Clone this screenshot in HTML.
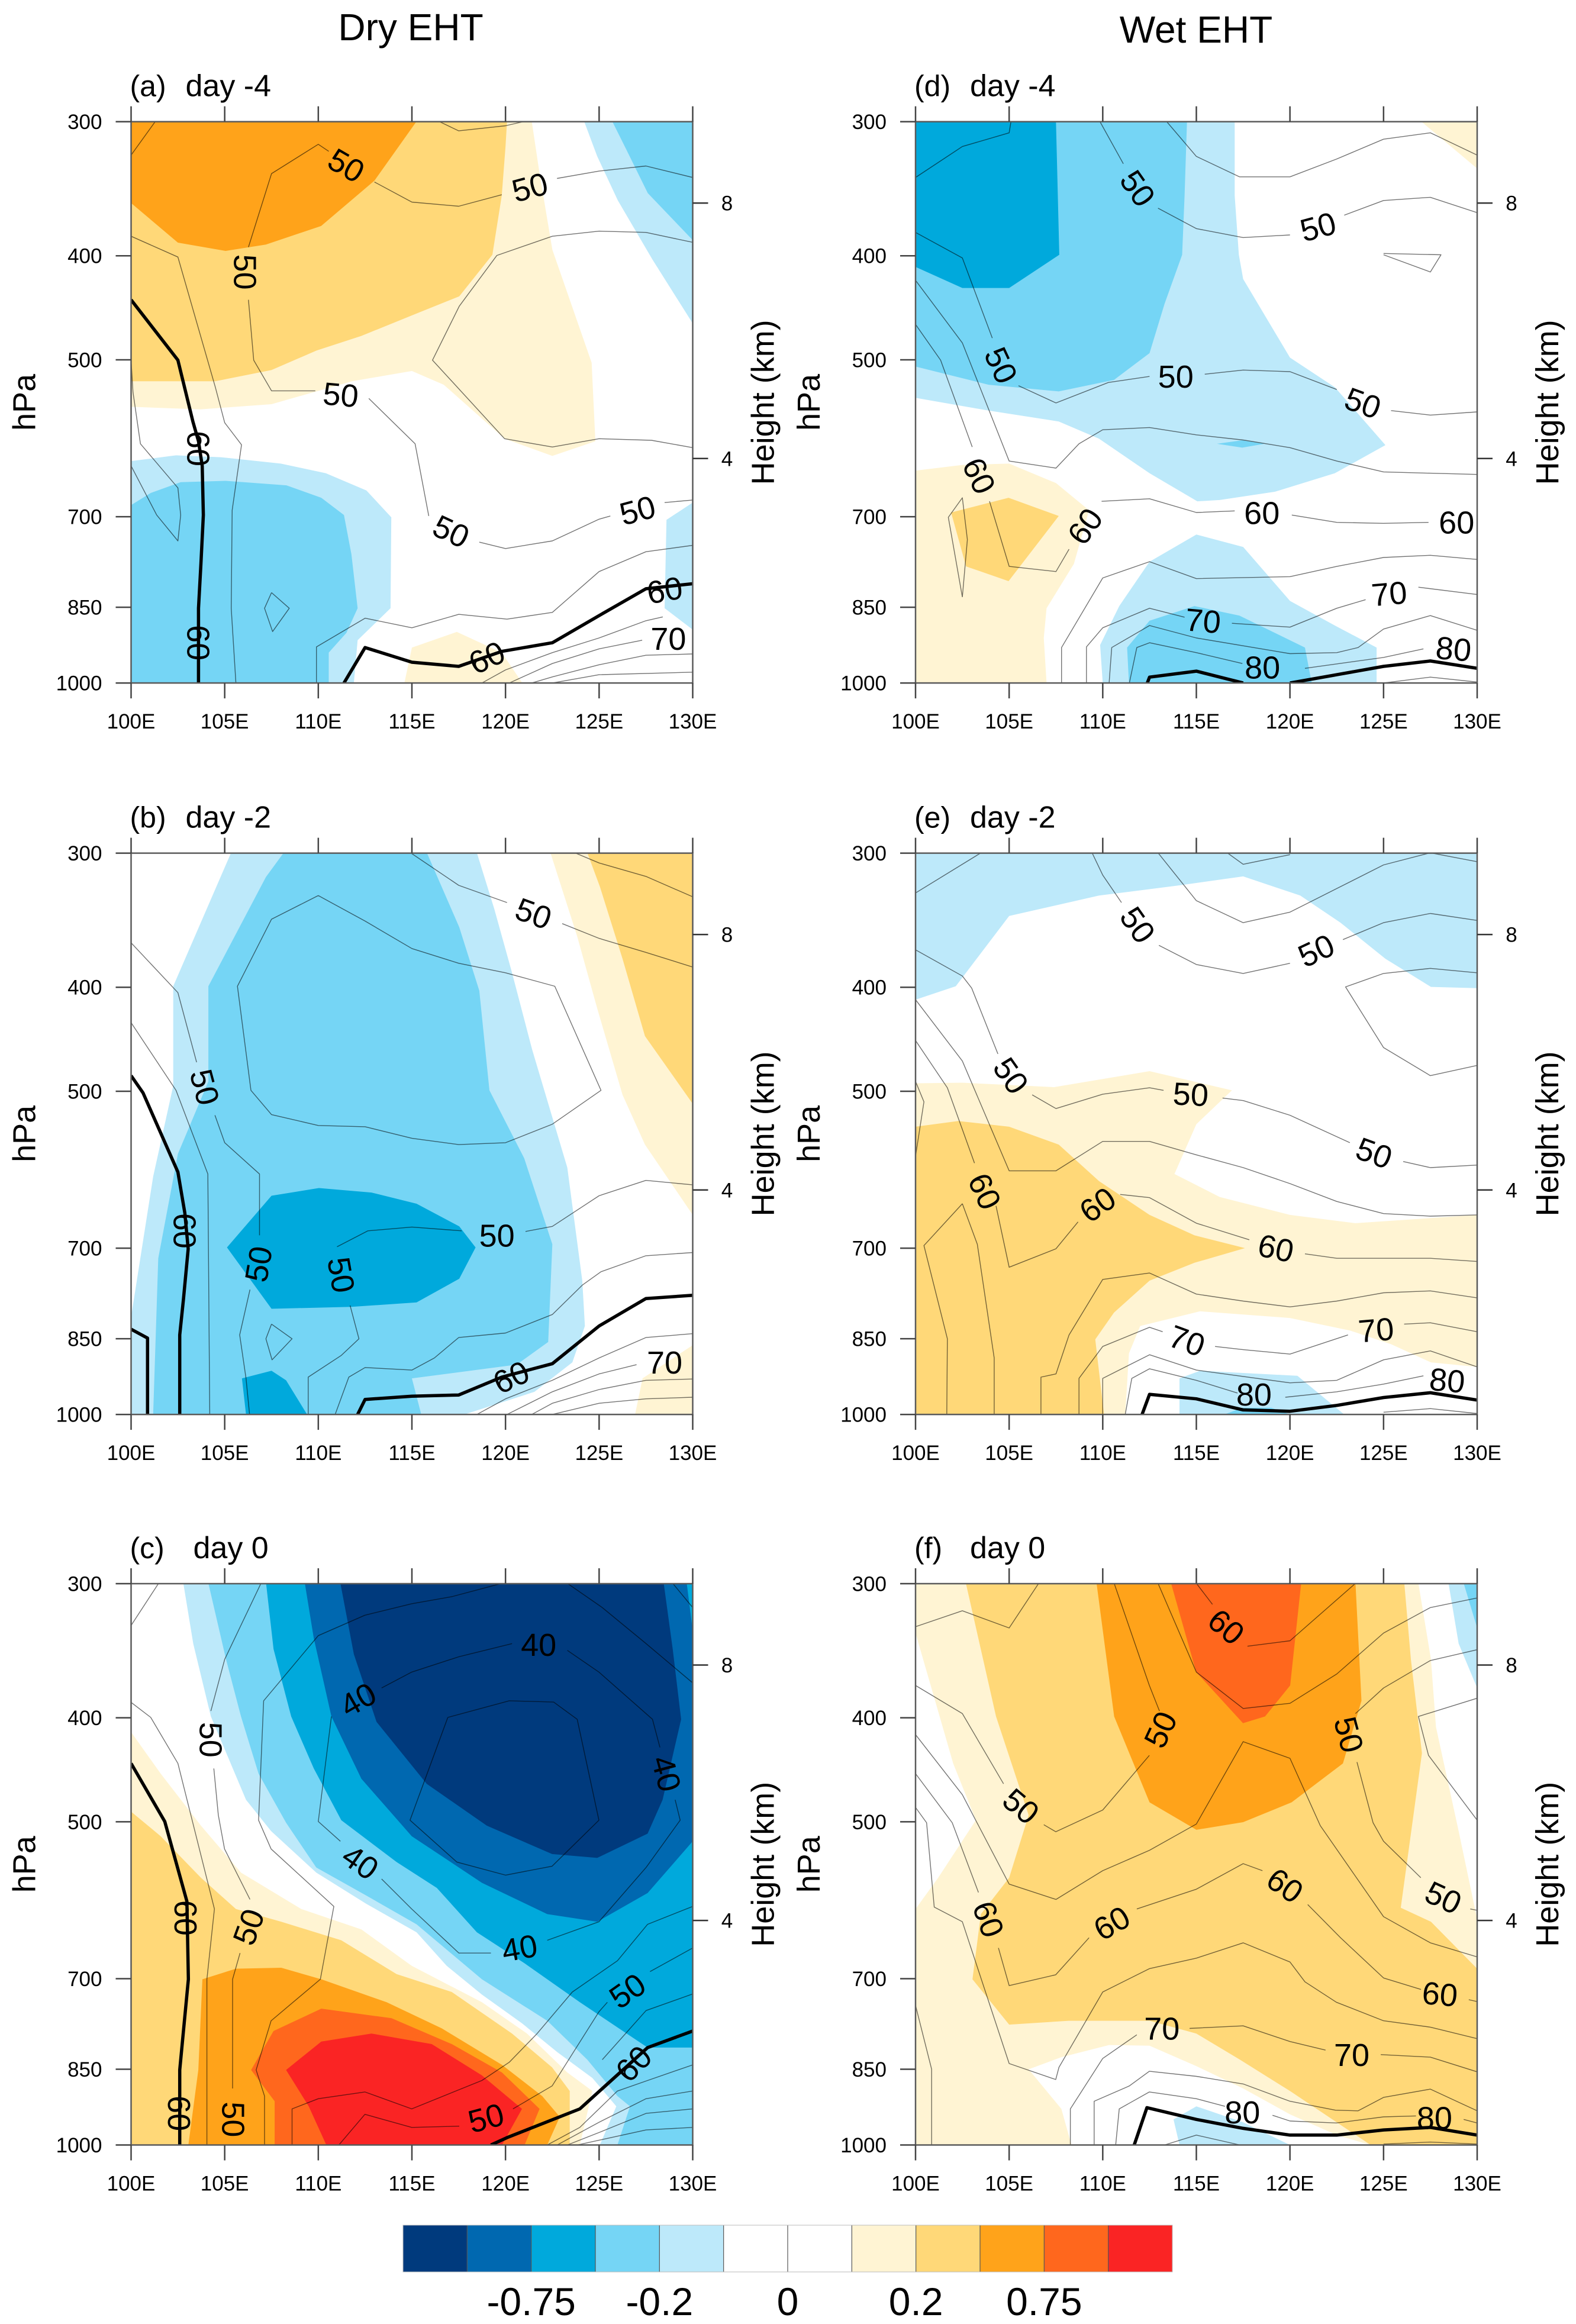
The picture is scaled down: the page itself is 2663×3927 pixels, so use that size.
<!DOCTYPE html>
<html lang="en">
<head>
<meta charset="utf-8">
<title>Dry and Wet EHT cross-sections</title>
<style>
html,body{margin:0;padding:0;background:#fff;}
svg{display:block;font-family:"Liberation Sans",sans-serif;}
</style>
</head>
<body>
<svg id="chart" xmlns="http://www.w3.org/2000/svg" width="2663" height="3927" viewBox="0 0 2663 3927">
<rect x="0" y="0" width="2663" height="3927" fill="#ffffff"/>
<text x="694" y="68" font-size="64" text-anchor="middle">Dry EHT</text>
<text x="2021" y="72" font-size="64" text-anchor="middle">Wet EHT</text>
</svg>
<script>
// ---------- shared tick values ----------
const lonTicks = [100,105,110,115,120,125,130];
const pressureTicks = [300,400,500,700,850,1000];
const heightTicks = [8,4];
// ---------- colour levels ----------
const levelColors = ['#003a7d','#0068b0','#00a9dc','#75d5f5','#bde9fa','#ffffff','#ffffff','#fff4d3','#ffd878','#ffa31a','#ff671d','#fa2424'];
const colorbarTickIndex = [2,4,6,8,10];
const colorbarTickText = ['-0.75','-0.2','0','0.2','0.75'];

// ---------- panel (a) ----------
const fillsA = [
[7,[[100,9.28],[121.4,9.28],[121.8,8.5],[122.5,7.27],[124.6,5.5],[124.8,4.27],[122.5,4.04],[119.95,4.31],[116.7,5.155],[115,5.37],[111.8,5.21],[107.5,4.85],[103.7,4.77],[100,4.81]]],
[8,[[100,9.28],[120.08,9.28],[120,8.885],[119.8,8.115],[119.3,7.19],[117.53,6.54],[115.25,6.27],[112.3,5.92],[109.9,5.69],[107.5,5.385],[104.5,5.21],[100,5.21]]],
[9,[[100,9.28],[115.25,9.28],[113,8.35],[110.15,7.64],[107.2,7.35],[105.05,7.25],[102.5,7.38],[100,8]]],
[4,[[124.2,9.28],[130,9.28],[130,6.115],[127.85,7.115],[126,8.04],[124.9,8.73]]],
[3,[[125.7,9.28],[130,9.28],[130,7.42],[127.6,8.155],[126.5,8.81]]],
[4,[[100,3.96],[102.4,4.05],[104.8,4.02],[108,3.92],[110.4,3.77],[112.57,3.5],[113.9,3.08],[113.86,1.655],[112.1,1.155],[111.9,0.485],[100,0.485]]],
[3,[[100,3.27],[101.05,3.46],[102.65,3.63],[105.05,3.65],[108.3,3.58],[110.16,3.385],[111.37,3.115],[111.77,2.5],[112.1,1.655],[111.5,1.27],[110.56,0.96],[110.56,0.485],[100,0.485]]],
[4,[[130,3.31],[128.6,3.04],[128.5,1.655],[130,1.32]]],
[7,[[115,1.04],[117.4,1.285],[119.8,0.96],[120.9,0.485],[114.6,0.485]]]
];
const thinA = [
[[100,8.75],[101.3,9.28]],
[[106.27,7.31],[107.5,8.46],[110,8.92],[110.56,8.81]],
[[113,8.33],[115,8.015],[117.5,7.95],[119.8,8.13]],
[[122.75,8.385],[125,8.5],[127.5,8.58],[130,8.4]],
[[116.5,9.27],[117.5,9.13],[120,9.21],[120.9,9.27]],
[[100,7.48],[102.5,7.155],[104.5,5.115],[105,4.56],[105.9,4.215],[105.4,3.19],[105.35,1.655],[105.6,0.485]],
[[106.27,6.485],[106.55,5.54],[107.5,5.06],[109.84,5.06]],
[[112.7,4.94],[115.17,4.23],[115.9,3.1]],
[[118.6,2.69],[120,2.59],[122.5,2.71],[125,3.05],[125.6,3.1]],
[[128.5,3.31],[130,3.35]],
[[130,7.385],[127.5,7.54],[125,7.56],[122.5,7.48],[119.54,7.18],[117.53,6.385],[116.1,5.54],[119.95,4.31],[122.5,4.18],[125,4.31],[127.8,4.285],[130,4.17]],
[[107.5,1.9],[108.45,1.655],[107.56,1.29],[107.13,1.655],[107.5,1.9]],
[[100,5.54],[100.1,5.04],[100.5,4.23],[102.5,3.54],[102.65,3.115],[102.5,2.71],[101.37,3.115],[100,3.885]],
[[109.9,0.485],[109.9,1.05],[112.5,1.5],[115,1.35],[117.5,1.56],[120.08,1.485],[122.5,1.59],[125,2.23],[127.5,2.54],[130,2.64]],
[[118.74,0.485],[120,0.69],[122.5,0.96],[125,1.19],[127.5,1.46],[128.4,1.52]],
[[120.2,0.485],[122.5,0.79],[125,1.02],[127.3,1.155]],
[[121.4,0.485],[122.5,0.58],[125,0.77],[127.5,0.92],[130,0.94]],
[[122.5,0.485],[125,0.615],[130,0.655]]
];
const boldA = [
[[100,6.485],[102.5,5.54],[103.3,4.58],[103.6,4.27],[103.8,3.885],[103.86,3.115],[103.73,2.35],[103.6,1.655],[103.6,0.485]],
[[111.37,0.485],[112.5,1.04],[115,0.81],[117.5,0.745],[119.8,0.98],[122.5,1.115],[125,1.54],[127.5,1.96],[130,2.04]]
];
const labelsA = [
[111.5,8.59,'50',30],[121.3,8.25,'50',-15],[106.1,6.92,'50',90],[111.2,5,'50',5],[117.1,2.86,'50',25],[127.05,3.19,'50',-15],
[103.6,4.155,'60',90],[103.6,1.115,'60',90],[119,0.885,'60',-25],[128.5,1.94,'60',-10],[128.7,1.18,'70',0]
];

// ---------- panel (b) ----------
const fillsB = [
[4,[[105.34,9.28],[118.47,9.28],[119.4,8.4],[120.35,7.4],[121.42,6.2],[123.3,4.35],[124.1,2.58],[124.24,1.87],[123.57,1.3],[121.55,0.84],[117.8,0.485],[100,0.485],[100,2.01],[101.18,4.21],[102.25,5.63],[102.25,7.19]]],
[3,[[108.15,9.28],[115.8,9.28],[117.53,8.115],[118.6,7.12],[119.14,5.56],[121,4.495],[122.5,3.15],[122.28,1.62],[120.6,1.265],[115,1.05],[115.5,0.485],[101.18,0.485],[101.45,2.93],[102.5,4.565],[104.13,5.7],[104.13,7.19],[107.2,8.9]]],
[2,[[105.12,3.1],[107.5,3.91],[110.03,4.03],[112.84,3.96],[115.25,3.785],[117.53,3.43],[118.4,3.1],[117.53,2.61],[115.25,2.24],[111.77,2.17],[107.5,2.14]]],
[2,[[105.92,1.05],[107.5,1.17],[108.28,1.02],[109.4,0.485],[106.14,0.485]]],
[7,[[122.4,9.28],[130,9.28],[130,3.61],[127.45,4.71],[126.25,5.49],[124.9,6.84],[123.83,7.97]]],
[8,[[124.37,9.28],[130,9.28],[130,5.35],[127.45,6.41],[126.25,7.62],[125.04,8.75]]],
[7,[[130,1.57],[130,0.485],[126.92,0.485],[127.32,1.05]]]
];
const thinB = [
[[114.93,9.28],[117.5,8.77],[120.08,8.5]],
[[123.03,8.17],[125,7.94],[127.5,7.72],[130,7.49]],
[[123.7,9.28],[125,9.12],[127.5,8.91],[130,8.59]],
[[110,8.61],[107.5,8.24],[105.68,7.19],[106.4,5.56],[107.5,5.18],[110,5.01],[112.5,4.99],[115,4.81],[117.5,4.71],[120,4.74],[122.5,5.03],[125.1,5.56],[122.63,7.19],[120,7.4],[117.5,7.55],[115,7.78],[112.5,8.21],[110,8.61]],
[[100,7.87],[102.5,7.09],[103.5,6]],
[[104.48,5.17],[105,4.74],[106.86,4.25],[106.86,3.29]],
[[106.35,2.44],[105.8,1.73],[106.14,1.05],[106.33,0.485]],
[[100,6.62],[102.4,5.56],[104.1,4.25],[104.2,0.485]],
[[111,3.11],[112.65,3.36],[115,3.42],[117.66,3.36]],
[[121.07,3.35],[122.5,3.43],[125,3.91],[127.5,4.15],[130,4.08]],
[[111.7,2.19],[112.17,1.67],[111.23,1.41],[109.46,1.07],[109.46,0.485]],
[[110.9,0.485],[111.63,1.07],[112.5,1.22],[115,1.18],[116.2,1.37],[117.5,1.69],[120,1.76],[122.5,2.05],[124.1,2.51],[125.1,2.72],[127.5,2.97],[130,3.02]],
[[107.5,1.9],[108.6,1.67],[107.53,1.34],[107.2,1.67],[107.5,1.9]],
[[118.47,0.485],[120,0.73],[122.5,1.02],[125,1.37],[127.5,1.69],[130,1.75]],
[[120.08,0.485],[122.5,0.84],[125,1.12],[127,1.265]],
[[121.4,0.485],[122.5,0.66],[125,0.875],[127.5,1.02],[130,1.04]],
[[122.5,0.485],[125,0.66],[127.5,0.73],[130,0.755]]
];
const boldB = [
[[100,5.79],[100.64,5.52],[102.5,4.28],[102.87,3.64],[103.05,3.08],[102.8,2.3],[102.6,1.73],[102.6,0.485]],
[[100,1.82],[100.88,1.68],[100.88,0.485]],
[[112.1,0.485],[112.5,0.72],[115,0.77],[117.5,0.79],[119.8,1.07],[122.5,1.28],[125,1.87],[127.5,2.3],[130,2.35]]
];
const labelsB = [
[121.5,8.33,'50',20],[103.94,5.61,'50',75],[106.8,2.84,'50',-80],[119.54,3.29,'50',0],[111.23,2.67,'50',80],
[128.5,1.3,'70',0],[102.87,3.36,'60',90],[120.3,1.07,'60',-25]
];

// ---------- panel (c) ----------
const fillsC = [
[7,[[100,6.95],[101.58,6.3],[103.73,5.485],[105.87,4.75],[109.09,4.18],[112.3,3.86],[114.99,3.29],[118.74,2.72],[121.15,2.23],[123.3,1.62],[124.64,1.33],[123.97,0.485],[100,0.485]]],
[8,[[100,5.705],[101.58,5.32],[103.73,4.67],[105.6,4.18],[108.02,3.98],[111.23,3.69],[114.18,3.16],[117.13,2.88],[120.35,2.23],[122.49,1.7],[123.43,1.33],[123.43,0.485],[100,0.485]]],
[9,[[103.81,3.08],[105.6,3.245],[108.02,3.26],[110.16,3.08],[113.65,2.72],[116.6,2.31],[119.81,1.74],[121.96,1.25],[122.9,0.925],[122.23,0.485],[103.06,0.485],[103.59,1.66]]],
[10,[[106.41,1.66],[107.61,2.27],[110.16,2.62],[113.91,2.47],[117.13,2.065],[119.81,1.62],[121.82,1.05],[121.02,0.485],[107.67,0.485],[107.67,1.17]]],
[11,[[108.28,1.66],[110.16,2.105],[112.84,2.23],[116.06,2.065],[118.74,1.575],[120.88,1.05],[119.81,0.485],[110.43,0.485],[109.49,1.09]]],
[4,[[102.79,9.28],[103.32,8.335],[104.26,7.195],[106.14,5.89],[107.48,5.4],[109.89,4.75],[112.57,4.26],[115.25,3.815],[116.86,3.29],[118.74,2.84],[120.88,2.39],[122.76,1.94],[124.64,1.535],[125.92,1.09],[125.04,0.485],[130,0.485],[130,9.28]]],
[3,[[104.13,9.28],[105.07,8.09],[105.87,7.195],[106.81,6.3],[108.28,5.53],[109.89,4.83],[112.57,4.39],[115.25,3.94],[118.74,3.08],[122.23,2.43],[124.37,1.82],[125.98,1.25],[126.65,1.09],[125.98,0.485],[130,0.485],[130,9.28]]],
[2,[[107.21,9.28],[107.61,8.25],[108.55,7.195],[109.76,6.38],[111.23,5.57],[114.18,4.915],[116.33,4.51],[118.47,3.815],[121.02,3.33],[123.97,2.72],[127.59,2.01],[130,2.01],[130,9.28]]],
[1,[[109.28,9.28],[109.76,8.42],[110.7,7.195],[112.3,6.22],[114.99,5.32],[118.74,4.59],[122.23,4.1],[124.9,3.98],[127.59,4.43],[130,5.24],[130,8.54],[129.68,9.28]]],
[0,[[111.18,9.28],[111.9,8.17],[113.11,7.11],[115.79,6.14],[119,5.485],[122.49,5.04],[124.9,4.98],[127.59,5.36],[128.39,5.89],[129.38,7.15],[128.93,8.25],[128.45,9.28]]]
];
const thinC = [
[[100,8.62],[101.47,9.28]],
[[106.94,9.28],[105,8.09],[104.26,7.28]],
[[104.42,6.38],[104.66,5.65],[104.99,5.12],[106.35,4.33]],
[[105.82,3.49],[105.42,3.08],[105.42,1.37]],
[[100,7.415],[101.05,7.18],[102.5,6.46],[104.45,4.18],[104.05,3.08],[104.05,0.485]],
[[119.81,9.28],[117.13,9.07],[114.99,8.96],[112.49,8.78],[110,8.46],[107.08,7.44],[106.81,5.57],[107.48,5.12],[110.83,4.22],[110.11,3.08],[107.48,2.43],[106.68,1.66],[107.13,1.25],[107.13,0.485]],
[[113.38,7.64],[114.99,7.89],[117.51,8.13],[120.35,8.335]],
[[123.3,8.23],[124.99,7.89],[127.85,7.15],[128.25,6.71]],
[[129.06,5.89],[129.33,5.57],[127.51,4.83],[124.99,3.98],[122.23,3.69]],
[[119.22,3.49],[117.51,3.49],[114.99,4.18],[113.38,4.65]],
[[111.18,5.24],[110,5.55],[110.7,7.195]],
[[123.3,9.28],[125.17,8.9],[127.51,8.335],[130,7.72]],
[[128.93,9.28],[130,8.9]],
[[116.92,7.18],[120.2,7.44],[122.57,7.42],[123.83,7.15],[124.99,5.57],[122.49,4.85],[120,4.71],[117.4,4.915],[114.9,5.57],[116.92,7.18]],
[[108.6,0.485],[108.6,1.05],[110,1.21],[112.49,1.315],[114.99,1.05],[118.74,1.495],[120.2,1.78],[121.69,2.23],[123.57,2.88],[125.98,3.37],[127.59,3.94],[130,4.22]],
[[111.1,0.485],[112.49,0.965],[114.99,0.76],[117.53,0.78]],
[[120.4,1.05],[122.49,1.41],[124.99,2.57],[125.44,2.72]],
[[127.72,3.2],[130,3.57]],
[[125.17,1.82],[127.51,2.59],[130,2.85]],
[[122.23,0.485],[123.97,0.76],[125.98,1.33],[127.59,1.495],[130,1.74]],
[[122.76,0.485],[124.99,0.84],[127.51,1.21],[130,1.33]],
[[123.3,0.485],[124.99,0.68],[127.51,0.98],[130,1.05]],
[[123.83,0.485],[127.51,0.72],[130,0.76]]
];
const boldC = [
[[100,6.46],[101.8,5.55],[102.98,4.3],[103.06,3.08],[102.6,1.66],[102.6,0.485]],
[[119.22,0.485],[120.08,0.6],[123.97,1.05],[127.59,2.01],[130,2.27]]
];
const labelsC = [
[104.26,6.83,'50',90],[106.27,3.9,'50',-70],[105.47,0.885,'50',90],[121.77,8.32,'40',0],[128.6,6.3,'40',75],[120.75,3.57,'40',-10],
[112.25,4.915,'40',35],[112.12,7.46,'40',-30],[118.96,0.91,'50',-15],[126.51,2.9,'50',-35],[102.92,4.04,'60',90],[102.57,0.98,'60',90],[126.84,1.76,'60',-45]
];

// ---------- panel (d) ----------
const fillsD = [
[4,[[100,9.28],[117.05,9.28],[117.05,8.115],[117.27,7.19],[117.5,6.81],[120,5.58],[122.4,5.115],[125.1,4.21],[122.4,3.77],[119.2,3.48],[116.25,3.35],[115.05,3.33],[112.5,3.77],[109.8,4.31],[107.65,4.58],[103.9,4.75],[100,4.95]]],
[3,[[100,9.28],[114.5,9.28],[114.37,8.115],[114.24,7.19],[113.3,6.42],[112.5,5.65],[110.6,5.23],[107.65,5.05],[103.9,5.155],[100,5.44]]],
[2,[[100,9.28],[107.5,9.28],[107.68,7.19],[105,6.67],[102.5,6.67],[100,7]]],
[3,[[116.1,4.23],[117.45,4.285],[118.65,4.23],[117.45,4.17]]],
[7,[[100,3.81],[102.5,3.9],[105,3.92],[107.5,3.615],[109.27,3.19],[108.46,2.35],[107,1.655],[106.85,1.19],[107,0.485],[100,0.485]]],
[8,[[101.9,3.155],[104.97,3.385],[107.65,3.1],[104.97,2.08],[102.7,2.31]]],
[7,[[127,9.28],[130,9.28],[130,8.54]]],
[4,[[115,2.81],[117.5,2.615],[120,1.77],[122.4,1.385],[124.63,1.04],[124.63,0.485],[110,0.485],[109.86,1.08],[110.88,1.69],[112.5,2.385]]],
[3,[[114.9,1.69],[117.3,1.54],[120.8,1.04],[121.16,0.485],[111.4,0.485],[111.3,1.04],[112.5,1.46]]]
];
const thinD = [
[[100,8.4],[102.5,8.885],[105,9.1],[105.1,9.28]],
[[109.86,9.27],[111.1,8.615]],
[[112.95,7.92],[115,7.6],[117.5,7.46],[120,7.5]],
[[122.9,7.81],[125,8.04],[127.5,8.09],[130,7.85]],
[[113.43,9.27],[115,8.73],[117.3,8.41],[120,8.41],[122.5,8.69],[125,9],[127.5,9.1],[130,8.75]],
[[100,7.54],[102.5,7.14],[104.1,5.885]],
[[105.5,5.14],[107.5,4.87],[110.3,5.19],[112.5,5.285]],
[[115.45,5.32],[117.5,5.385],[120,5.36],[122.5,5.08]],
[[125.4,4.75],[127.5,4.68],[130,4.73]],
[[100,6.79],[102.5,5.81],[105,3.96],[107.5,3.85],[108.73,4.23],[110,4.45],[112.5,4.485],[115,4.37],[117.5,4.29],[120,4.17],[122.5,3.96],[125,3.79],[127.5,3.77],[130,3.75]],
[[100,6.1],[101.34,5.54],[103.03,4.18]],
[[103.95,3.33],[105,2.31],[107.5,2.23],[108.2,2.58]],
[[109.94,3.33],[112.5,3.37],[115,3.155],[117.05,3.18]],
[[120.1,3.115],[122.5,3],[125,2.985],[127.4,3]],
[[102.5,1.83],[101.75,3.08],[102.5,3.385],[102.77,2.73],[102.5,1.83]],
[[125,7.21],[128.07,7.19],[127.5,6.92],[125,7.19]],
[[107.8,0.485],[107.8,1.04],[110,2.13],[112.5,2.385],[115,2.12],[120,2.15],[122.5,2.31],[125,2.45],[127.5,2.485],[130,2.42]],
[[109.13,0.485],[109.13,1.05],[110,1.35],[112.5,1.655],[114.37,1.515]],
[[116.9,1.42],[120,1.36],[122.5,1.655],[124.04,1.79]],
[[126.86,1.985],[130,1.87]],
[[110.34,0.485],[110.48,1.04],[112.5,1.385],[115,1.19],[120,0.945],[122.5,0.96],[123.64,1.04],[125,1.33],[127.5,1.54],[130,1.31]],
[[111.42,0.485],[111.82,1.04],[112.5,1.115],[115,0.96],[117.46,0.79]],
[[120.8,0.715],[125,0.885],[127.13,1.02]],
[[125,0.485],[127.5,0.577],[130,0.5]]
];
const boldD = [
[[112.38,0.485],[112.5,0.577],[115,0.67],[117.5,0.485]],
[[120,0.485],[122.5,0.615],[125,0.745],[127.5,0.83],[130,0.715]]
];
const labelsD = [
[111.87,8.23,'50',55],[121.5,7.63,'50',-15],[104.57,5.46,'50',65],[113.9,5.285,'50',0],[123.9,4.87,'50',20],
[103.4,3.73,'60',65],[109.05,2.94,'60',-55],[118.5,3.15,'60',0],[128.9,3,'60',0],
[115.36,1.46,'70',5],[125.3,1.885,'70',-5],[118.53,0.73,'80',0],[128.74,1.02,'80',5]
];

// ---------- panel (e) ----------
const fillsE = [
[4,[[100,9.28],[130,9.28],[130,7.16],[127.53,7.18],[125.1,7.62],[122.7,8.185],[120.55,8.61],[117.5,8.91],[114.1,8.77],[109.8,8.61],[105,8.29],[102.15,7.19],[100,6.98]]],
[7,[[100,5.67],[102.5,5.68],[107.4,5.61],[112.5,5.86],[116.9,5.56],[115,5.03],[113.83,4.25],[116.25,3.89],[120,3.61],[123.5,3.48],[130,3.61],[130,1.23],[127.53,1.3],[125.4,1.585],[123.2,1.8],[120,1.995],[115.2,2.1],[112,1.87],[111.4,1.44],[111.2,0.485],[100,0.485]]],
[8,[[100,4.99],[102.28,5.08],[105,4.99],[107.65,4.71],[109.8,4.14],[112.5,3.61],[114.9,3.29],[117.6,3.09],[114.9,2.86],[112.5,2.58],[110.6,2.08],[109.6,1.66],[110.07,0.485],[100,0.485]]],
[4,[[114.1,0.485],[114.1,1.05],[115.2,1.17],[120.4,1.09],[121.6,0.8],[122.9,0.485]]],
[3,[[116.5,0.485],[117.45,0.59],[119,0.59],[120,0.485]]]
];
const thinE = [
[[100,8.65],[103.5,9.28]],
[[109.43,9.28],[110,8.93],[111,8.5]],
[[113,7.83],[115,7.53],[117.5,7.39],[120,7.55]],
[[122.83,7.92],[125,8.185],[127.5,8.33],[130,8.22]],
[[112.95,9.28],[115,8.53],[117.5,8.185],[120,8.35],[122.5,8.72],[125,9.09],[127.5,9.28],[130,9.14]],
[[116.65,9.28],[117.5,9.1],[120,9.25]],
[[130,7.4],[127.5,7.47],[125,7.39],[122.97,7.18],[125,6.23],[127.5,5.79],[130,5.95]],
[[100,7.76],[102.5,7.35],[103,7.16],[104.4,6.13]],
[[106.23,5.49],[107.5,5.275],[110,5.5],[112.5,5.6],[113.25,5.56]],
[[116.4,5.44],[117.5,5.4],[120,5.17],[123.2,4.74]],
[[126.05,4.445],[127.5,4.35],[130,4.39]],
[[100,6.98],[102.5,6.02],[105,4.3],[107.5,4.3],[110,4.76],[112.5,4.76],[115,4.55],[117.5,4.35],[120,4.1],[122.5,3.82],[125,3.63],[127.5,3.59],[130,3.61]],
[[100,6.34],[101.7,5.6],[103.15,4.42]],
[[104.3,3.75],[105,2.79],[107.5,3.08],[108.68,3.5]],
[[110.93,3.93],[112.5,3.88],[115,3.48],[117.83,3.22]],
[[120.8,3],[122.5,2.93],[125,2.93],[127.5,2.93],[130,2.88]],
[[100,5.7],[100.45,5.38],[100,4.53]],
[[102.5,3.785],[100.45,3.13],[101.7,1.67],[101.67,0.485]],
[[102.5,3.785],[103.3,3.15],[104.2,1.37],[104.2,0.485]],
[[106.7,0.485],[106.7,1.07],[107.5,1.12],[108.2,1.73],[110,2.6],[112.5,2.7],[115,2.37],[117.5,2.26],[120,2.17],[122.5,2.26],[125,2.39],[127.5,2.42],[130,2.31]],
[[108.73,0.485],[108.73,1.05],[110,1.55],[112.5,1.85],[113.2,1.78]],
[[116,1.55],[117.5,1.5],[120,1.43],[123.1,1.73]],
[[126.1,1.9],[127.5,1.92],[130,1.78]],
[[110,0.485],[110,1.05],[112.5,1.42],[115,1.18],[120,0.98],[122.5,1.02],[125,1.34],[127.5,1.48],[130,1.23]],
[[111.2,0.485],[111.55,1.05],[112.5,1.2],[115,1.02],[117.2,0.82]],
[[119.75,0.755],[122.5,0.84],[125,0.96],[127.13,1.09]],
[[125,0.52],[127.5,0.577],[130,0.5]]
];
const boldE = [
[[112.1,0.485],[112.5,0.8],[115,0.73],[117.5,0.556],[120,0.535],[122.5,0.627],[125,0.75],[127.5,0.825],[130,0.71]]
];
const labelsE = [
[111.87,8.15,'50',55],[121.4,7.75,'50',-25],[105.1,5.79,'50',55],[114.7,5.5,'50',3],[124.5,4.58,'50',20],
[103.7,3.98,'60',65],[109.72,3.77,'60',-35],[119.25,3.09,'60',12],
[114.5,1.64,'70',20],[124.6,1.81,'70',-5],[118.08,0.8,'80',0],[128.4,1.02,'80',5]
];

// ---------- panel (f) ----------
const fillsF = [
[7,[[100,9.28],[126.86,9.28],[127.53,8.09],[127.8,7.03],[129.01,5.4],[130,4.02],[130,0.485],[124.31,0.485],[122.5,0.64],[120,0.965],[117.5,1.37],[115,1.72],[112.5,2.04],[110.34,2.05],[107.79,1.86],[106.04,1.67],[107.79,1.05],[108.33,0.485],[100,0.485],[100,4.18],[101.21,4.67],[103.22,5.57],[102.01,6.46],[100.81,7.68],[100,8.5]]],
[8,[[102.69,9.28],[126.11,9.28],[126.46,8.09],[127.05,6.62],[125.92,4.2],[127.53,3.98],[130,3.245],[130,0.485],[124.31,0.485],[122.5,0.84],[120,1.33],[117.33,1.82],[115,2.23],[112.5,2.43],[108.19,2.43],[105,2.37],[103.04,3.08],[103.49,4.1],[105,4.67],[106.04,5.65],[104.3,7.195]]],
[9,[[109.67,9.28],[123.5,9.28],[123.82,7.44],[122.83,6.46],[120.09,5.85],[117.5,5.54],[115,5.42],[112.5,5.85],[110.61,7.195]]],
[10,[[113.65,9.28],[120.6,9.28],[120.01,7.68],[118.67,7.195],[117.49,7.09],[114.99,7.89]]],
[4,[[128.47,9.28],[130,9.28],[130,7.64],[129.01,8.335]]],
[3,[[129.28,9.28],[130,9.28],[130,8.58]]],
[4,[[113.78,0.885],[115,1.09],[117.5,0.84],[120,0.485],[114.1,0.485]]]
];
const thinF = [
[[100,8.6],[102.5,8.85],[105,8.58],[106.58,9.28]],
[[110.61,9.28],[112.49,7.68],[113.03,7.28]],
[[112.49,6.585],[110,5.73],[107.49,5.39],[106.85,5.5]],
[[104.7,6.14],[102.5,7.24],[100,7.68]],
[[112.95,9.28],[115,7.89],[117.5,7.32],[120,7.4],[122.5,7.86],[125,8.5],[127.5,8.9],[130,9.05]],
[[115,9.28],[115.86,8.95]],
[[117.73,8.295],[120,8.38],[123.5,9.28]],
[[123.5,7.24],[125,7.64],[127.5,8.07],[130,8.24]],
[[123.58,6.48],[124.44,5.53],[125,5.24],[126.99,4.67]],
[[129.63,4.18],[130,4.16]],
[[130,7.48],[126.86,7.195],[127.4,6.585],[130,5.57]],
[[100,6.91],[102.5,5.97],[105,4.57],[107.5,4.33],[110,4.78],[112.5,5.1],[115,5.51],[117.5,6.8],[120,6.54],[121.62,5.485],[125,4.06],[127.5,3.65],[130,3.43]],
[[100,6.3],[101.96,5.53],[103.36,4.44]],
[[104.43,3.57],[105,2.98],[107.49,3.15],[109.27,3.73]],
[[111.82,4.18],[115,4.49],[117.5,4.89],[118.53,4.78]],
[[120.95,4.25],[122.7,3.73],[125,3.1],[127,2.92]],
[[129.55,2.76],[130,2.73]],
[[100,5.77],[100.59,5.53],[101,4.21],[102.5,3.98],[105,1.76],[107.49,1.51],[107.66,1.7],[110,2.88],[112.49,3.245],[115,3.41],[117.5,3.65],[120,3.35],[120.8,3.04],[122.48,2.72],[125,2.43],[127.5,2.33],[130,2.15]],
[[100,2.67],[100.86,1.67],[100.86,0.485]],
[[108.27,0.485],[108.27,1.05],[110,1.84],[111.82,2.21]],
[[114.64,2.31],[117.5,2.35],[120,2.105],[121.9,1.97]],
[[124.85,1.9],[127.5,1.86],[130,1.63]],
[[109.54,0.485],[109.54,1.17],[111.42,1.41],[112.49,1.64],[115,1.56],[117.5,1.44],[120,1.17],[122.43,1.03],[123.64,1.02],[125,1.23],[127.5,1.36],[130,1.02]],
[[110.69,0.485],[110.88,1.05],[112.49,1.315],[115,1.21],[116.53,1.09]],
[[119.07,0.95],[120,0.86],[122.48,0.83],[125,0.925],[126.73,0.94]],
[[129.28,0.885],[130,0.83]],
[[113.3,0.485],[115,0.64],[117.33,0.485]],
[[125,0.5],[127.5,0.53],[130,0.5]]
];
const boldF = [
[[111.68,0.485],[112.36,1.07],[115,0.885],[117.5,0.745],[120,0.64],[122.5,0.64],[125,0.72],[127.5,0.76],[130,0.64]]
];
const labelsF = [
[116.6,8.6,'60',40],[113.08,6.99,'50',-65],[105.64,5.79,'50',40],[123.15,6.91,'50',75],[128.2,4.36,'50',25],
[103.9,4.02,'60',70],[110.48,3.96,'60',-30],[119.74,4.55,'60',35],[128.01,2.85,'60',5],
[113.16,2.31,'70',0],[123.3,1.9,'70',0],[117.46,1,'80',0],[127.72,0.91,'80',0]
];

// ---------- panel text ----------
const panelLetters = ['(a)','(b)','(c)','(d)','(e)','(f)'];
const panelDays = ['day -4','day -2','day 0','day -4','day -2','day 0'];

// ---------- layout + axis functions ----------
const NS = 'http://www.w3.org/2000/svg';
const svg = document.getElementById('chart');
const plotW = 949, plotH = 948.5;
const colLeft = [221.5, 1547];
const rowTop = [205.6, 1441.6, 2676];
const lonMin = 100, lonMax = 130;
function kmOfPressure(p){ return 0.485 + 7.3 * Math.log(1000 / p); }
const kmTop = kmOfPressure(300), kmBottom = kmOfPressure(1000);
function xAxis(left, lon){ return left + (lon - lonMin) / (lonMax - lonMin) * plotW; }
function yAxis(top, km){ return top + (kmTop - km) / (kmTop - kmBottom) * plotH; }
function node(parent, tag, attrs, txt){
  const n = document.createElementNS(NS, tag);
  for (const k in attrs) n.setAttribute(k, attrs[k]);
  if (txt !== undefined) n.textContent = txt;
  parent.appendChild(n);
  return n;
}
function toPoints(pts, left, top){
  return pts.map(function(p){ return xAxis(left, p[0]).toFixed(1) + ',' + yAxis(top, p[1]).toFixed(1); }).join(' ');
}

const panelData = [
  [fillsA, thinA, boldA, labelsA],
  [fillsB, thinB, boldB, labelsB],
  [fillsC, thinC, boldC, labelsC],
  [fillsD, thinD, boldD, labelsD],
  [fillsE, thinE, boldE, labelsE],
  [fillsF, thinF, boldF, labelsF]
];

panelData.forEach(function(d, i){
  const left = colLeft[i < 3 ? 0 : 1];
  const top = rowTop[i % 3];
  const right = left + plotW, bottom = top + plotH;
  const letter = 'abcdef'[i];

  const g = node(svg, 'g', {});
  
  

  const defs = node(g, 'defs', {});
  const clip = node(defs, 'clipPath', {id: 'clip-' + letter});
  node(clip, 'rect', {x: left, y: top, width: plotW, height: plotH});
  const plot = node(g, 'g', {'clip-path': 'url(#clip-' + letter + ')'});

  d[0].forEach(function(f){
    const poly = node(plot, 'polygon', {points: toPoints(f[1], left, top), fill: levelColors[f[0]]});
    
    
  });
  d[1].forEach(function(c){
    const line = node(plot, 'polyline', {points: toPoints(c, left, top), fill: 'none', stroke: '#000', 'stroke-opacity': 0.55, 'stroke-width': 1.4, 'stroke-linejoin': 'round'});
    
    
  });
  d[2].forEach(function(c){
    const line = node(plot, 'polyline', {points: toPoints(c, left, top), fill: 'none', stroke: '#000', 'stroke-width': 5.5, 'stroke-linejoin': 'round'});
    
    
  });
  d[3].forEach(function(l){
    const x = xAxis(left, l[0]), y = yAxis(top, l[1]);
    const t = node(g, 'text', {x: x, y: y + 19, 'font-size': 54, 'text-anchor': 'middle', transform: 'rotate(' + l[3] + ' ' + x + ' ' + y + ')'}, l[2]);
    
    
  });

  const frame = node(g, 'rect', {x: left, y: top, width: plotW, height: plotH, fill: 'none', stroke: '#5a5a5a', 'stroke-width': 2.5});
  
  

  lonTicks.forEach(function(lon){
    const x = xAxis(left, lon);
    const tickTop = node(g, 'line', {x1: x, x2: x, y1: top - 26, y2: top, stroke: '#444', 'stroke-width': 2.5});
    
    
    const tickBottom = node(g, 'line', {x1: x, x2: x, y1: bottom, y2: bottom + 26, stroke: '#444', 'stroke-width': 2.5});
    
    
    const lab = node(g, 'text', {x: x, y: bottom + 77, 'font-size': 35, 'text-anchor': 'middle'}, lon + 'E');
    
    
  });
  pressureTicks.forEach(function(p){
    const y = yAxis(top, kmOfPressure(p));
    const tick = node(g, 'line', {x1: left - 26, x2: left, y1: y, y2: y, stroke: '#444', 'stroke-width': 2.5});
    
    
    const lab = node(g, 'text', {x: left - 49, y: y + 12.5, 'font-size': 35, 'text-anchor': 'end'}, p);
    
    
  });
  heightTicks.forEach(function(h){
    const y = yAxis(top, h);
    const tick = node(g, 'line', {x1: right, x2: right + 26, y1: y, y2: y, stroke: '#333', 'stroke-width': 2.5});
    
    
    const lab = node(g, 'text', {x: right + 58, y: y + 12.5, 'font-size': 35, 'text-anchor': 'middle'}, h);
    
    
  });

  const midY = top + plotH / 2;
  const hpaX = left - 181, kmX = right + 118;
  const hpa = node(g, 'text', {x: hpaX, y: midY, 'font-size': 54, 'text-anchor': 'middle', transform: 'rotate(-90 ' + hpaX + ' ' + midY + ') translate(0 19)'}, 'hPa');
  
  
  const km = node(g, 'text', {x: kmX, y: midY, 'font-size': 54, 'text-anchor': 'middle', transform: 'rotate(-90 ' + kmX + ' ' + midY + ') translate(0 19)'}, 'Height (km)');
  
  

  const letterText = node(g, 'text', {x: left - 2, y: top - 43, 'font-size': 50}, panelLetters[i]);
  
  
  const dayX = (i === 2) ? left + 105 : left + 92;
  const dayText = node(g, 'text', {x: dayX, y: top - 43, 'font-size': 52}, panelDays[i]);
  
  
});

// ---------- colour bar ----------
const cbLeft = 681, cbRight = 1981, cbTop = 3760, cbBottom = 3839;
const cbCell = (cbRight - cbLeft) / levelColors.length;
const cb = node(svg, 'g', {});


levelColors.forEach(function(c, i){
  const r = node(cb, 'rect', {x: cbLeft + i * cbCell, y: cbTop, width: cbCell + 0.5, height: cbBottom - cbTop, fill: c});
  
  
});
levelColors.forEach(function(c, i){
  if (i === 0) return;
  const s = node(cb, 'line', {x1: cbLeft + i * cbCell, x2: cbLeft + i * cbCell, y1: cbTop, y2: cbBottom, stroke: '#555', 'stroke-width': 1.2});
  
  
});
const cbFrame = node(cb, 'rect', {x: cbLeft, y: cbTop, width: cbRight - cbLeft, height: cbBottom - cbTop, fill: 'none', stroke: '#bbb', 'stroke-width': 1});


colorbarTickIndex.forEach(function(idx, i){
  const lab = node(cb, 'text', {x: cbLeft + idx * cbCell, y: 3912, 'font-size': 66, 'text-anchor': 'middle'}, colorbarTickText[i]);
  
  
});
</script>
</body>
</html>
